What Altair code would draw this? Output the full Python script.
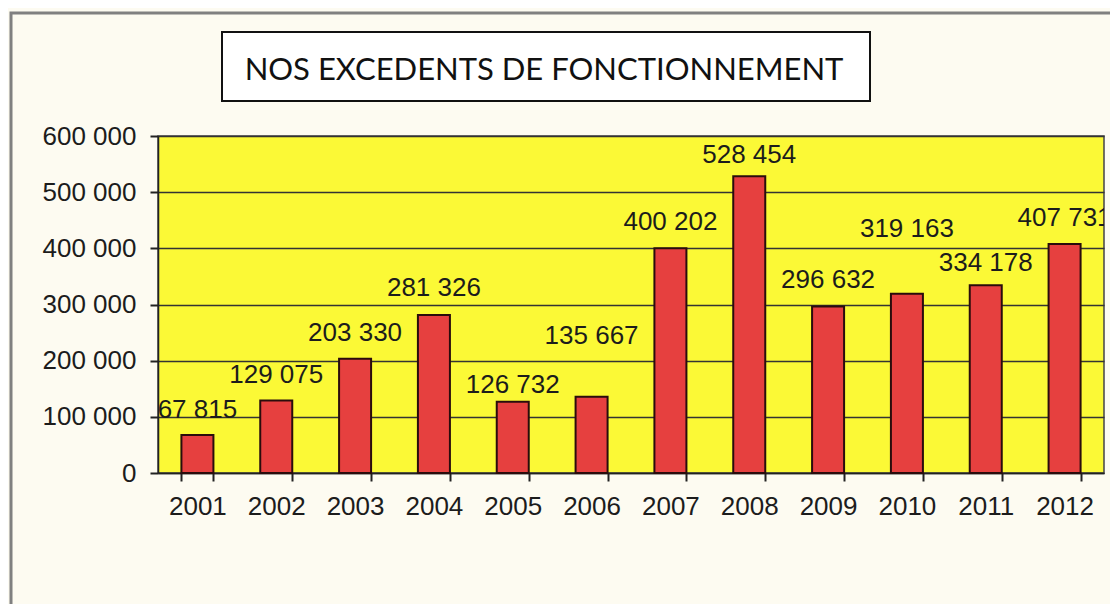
import altair as alt
import pandas as pd

years = ["2001", "2002", "2003", "2004", "2005", "2006",
         "2007", "2008", "2009", "2010", "2011", "2012"]
values = [67815, 129075, 203330, 281326, 126732, 135667,
          400202, 528454, 296632, 319163, 334178, 407731]
# vertical anchor of each value label, in data units
label_at = [112000, 174500, 249000, 329000, 157000, 244000,
            447000, 566000, 344000, 434000, 374000, 454000]
y_ticks = [0, 100000, 200000, 300000, 400000, 500000, 600000]
title = "NOS EXCEDENTS DE FONCTIONNEMENT"

df = pd.DataFrame({"year": years, "value": values, "label_at": label_at})
df_title = pd.DataFrame({"t": [title]})

NUM_FONT = "Liberation Sans"
TXT = "#1c1c1c"
fmt = "replace(format(datum.value, ','), ',', ' ')"

xscale = alt.Scale(paddingInner=0.594, paddingOuter=0.297)
yscale = alt.Scale(domain=[y_ticks[0], y_ticks[-1]], nice=False)

frame = alt.Chart(df_title).mark_rect(
    filled=False, stroke="#808080", strokeWidth=3
).encode(
    x=alt.value(-147), x2=alt.value(1100),
    y=alt.value(-123), y2=alt.value(600)
)

box = alt.Chart(df_title).mark_rect(
    fill="white", stroke="#111111", strokeWidth=2
).encode(
    x=alt.value(64), x2=alt.value(712),
    y=alt.value(-104), y2=alt.value(-35)
)

title_text = alt.Chart(df_title).mark_text(
    font="Lato", fontSize=31, align="center", baseline="alphabetic", color="#111111"
).encode(
    x=alt.value(386), y=alt.value(-56), text="t:N"
)

bars = alt.Chart(df).mark_bar(
    fill="#E6403F", stroke="#2a0c0c", strokeWidth=2
).encode(
    x=alt.X("year:O", scale=xscale, sort=years, title=None),
    y=alt.Y("value:Q", scale=yscale, title=None)
)

labels = alt.Chart(df).transform_calculate(
    lbl=fmt
).mark_text(
    font=NUM_FONT, fontSize=26, color=TXT, baseline="middle", align="center", clip=True
).encode(
    x=alt.X("year:O", scale=xscale, sort=years, title=None),
    y=alt.Y("label_at:Q", scale=yscale, title=None),
    text="lbl:N"
)

chart = alt.layer(frame, box, title_text, bars, labels).properties(
    width=946, height=337,
    autosize=alt.AutoSizeParams(type="none"),
    padding={"left": 150, "top": 128, "right": 6, "bottom": 131}
).configure(
    background="#FDFBF1"
).configure_view(
    fill="#FBF936", stroke="#444444", strokeWidth=1.5
).configure_axis(
    labelFont=NUM_FONT, labelFontSize=26, labelColor=TXT,
    domainColor="#222222", domainWidth=1.5,
    tickColor="#222222", tickWidth=2, tickSize=8
).configure_axisX(
    labelAngle=0, tickBand="extent", labelPadding=12, grid=False
).configure_axisY(
    tickCount=6, labelExpr=fmt, labelPadding=14, grid=True,
    gridColor="#333333", gridWidth=1.5
)

chart.save("out.html", embed_options={"renderer": "svg", "actions": False})
